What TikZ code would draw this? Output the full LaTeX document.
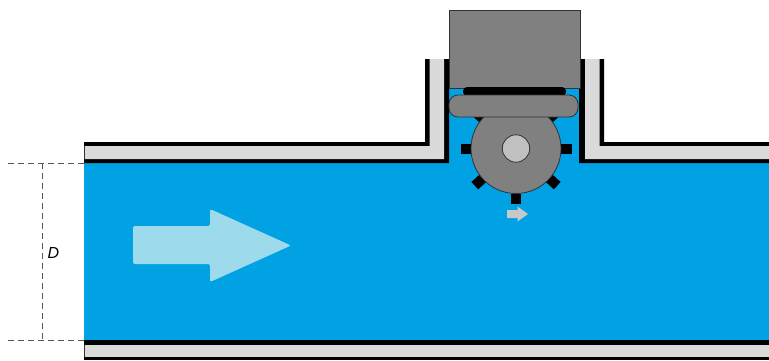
\documentclass[tikz,border=0pt]{standalone}
\usepackage{fontspec}
\setmainfont{Liberation Sans}
\definecolor{water}{RGB}{0,162,228}
\definecolor{wallgray}{RGB}{218,218,218}
\definecolor{partgray}{RGB}{128,128,128}
\definecolor{hubgray}{RGB}{192,192,192}
\definecolor{flowblue}{RGB}{157,218,235}
\definecolor{markgray}{RGB}{200,200,200}
\definecolor{dimgray}{RGB}{85,85,85}
\definecolor{edgegray}{RGB}{50,50,50}
\tikzset{
  waterfill/.style={fill=water},
  wallout/.style={fill=black},
  wallin/.style={fill=wallgray},
  partbody/.style={fill=partgray, draw=edgegray, line width=0.8pt},
  hubbody/.style={fill=hubgray, draw=edgegray, line width=0.8pt},
  toothbox/.style={fill=black},
  flowarrow/.style={fill=flowblue, rounded corners=2pt},
  spinarrow/.style={fill=markgray},
  dimline/.style={draw=dimgray, line width=0.8pt, dash pattern=on 6pt off 4pt},
}
\begin{document}
\begin{tikzpicture}[x=1pt,y=-1pt]
\useasboundingbox[fill=white] (0,0) rectangle (769,360);

% water in the pipe and in the meter housing
\fill[waterfill] (84,163) rectangle (769,341);
\fill[waterfill] (449,59) rectangle (580,163);

% left part of the upper wall, turning up into the housing
\fill[wallout] (84,142) -- (425,142) -- (425,59) -- (449,59) -- (449,163) -- (84,163) -- cycle;
\fill[wallin]  (84,146) -- (429.5,146) -- (429.5,59) -- (444,59) -- (444,159) -- (84,159) -- cycle;
% right part of the upper wall
\fill[wallout] (579,59) -- (604,59) -- (604,142) -- (769,142) -- (769,163) -- (579,163) -- cycle;
\fill[wallin]  (585,59) -- (599.5,59) -- (599.5,146) -- (769,146) -- (769,159) -- (585,159) -- cycle;
% lower wall
\fill[wallout] (84,340) rectangle (769,360);
\fill[wallin]  (84,345) rectangle (769,357);
\draw[edgegray, line width=0.6pt] (84.3,146) -- (84.3,159) (84.3,345) -- (84.3,357);

% register housing on top
\draw[partbody] (449,10) rectangle (580,88);
\fill[black, rounded corners=4pt] (463,87) rectangle (566,96);

% paddle wheel
\coordinate (hub) at (516,148.5);
\foreach \a in {0,42,90,138,180,222,270,318}
  \fill[toothbox, rotate around={\a:(hub)}] (561,143.5) rectangle (571.5,153.5);
\draw[partbody] (hub) circle[radius=45pt];
\draw[hubbody] (hub) circle[radius=13.7pt];

% coupling disc
\draw[partbody, rounded corners=9pt] (449,95) rectangle (578,117);

% rotation mark under the wheel
\fill[spinarrow] (507,210) -- (517.5,210) -- (517.5,206.5) -- (528,214) -- (517.5,221.5) -- (517.5,218) -- (507,218) -- cycle;

% flow direction
\fill[flowarrow] (133,226) -- (210,226) -- (210,209) -- (291,245.5) -- (210,282) -- (210,264) -- (133,264) -- cycle;

% pipe diameter
\coordinate (dtopL) at (8,163.3);
\coordinate (dtopR) at (84,163.3);
\coordinate (dbotL) at (8,340.7);
\coordinate (dbotR) at (84,340.7);
\coordinate (dvt) at (42,163.3);
\coordinate (dvb) at (42,340.7);
\draw[dimline] (dtopL) -- (dtopR);
\draw[dimline] (dbotL) -- (dbotR);
\draw[dimline] (dvt) -- (dvb);
\node[font=\itshape\fontsize{16}{18}\selectfont, inner sep=0pt] (dlabel) at (53.5,252.5) {D};
\end{tikzpicture}
\end{document}
